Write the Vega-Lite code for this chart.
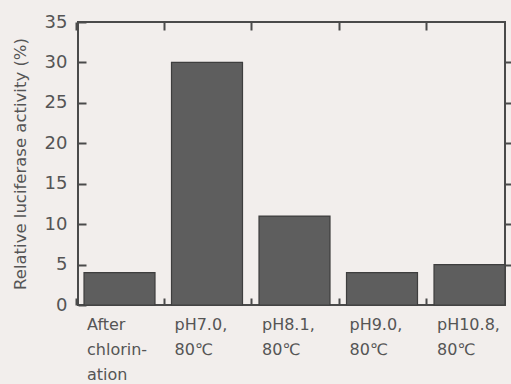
{
  "$schema": "https://vega.github.io/schema/vega-lite/v6.json",
  "autosize": "none",
  "width": 427,
  "height": 283,
  "padding": {"left": 78, "top": 22, "right": 6, "bottom": 79},
  "background": "#f2eeec",
  "config": {
    "view": {"stroke": "#4a4a4a", "strokeWidth": 2},
    "font": "DejaVu Sans",
    "axis": {"domain": false, "grid": false}
  },
  "data": {
    "values": [
      {"condition": "After|chlorin-|ation", "activity": 4},
      {"condition": "pH7.0,|80℃", "activity": 30},
      {"condition": "pH8.1,|80℃", "activity": 11},
      {"condition": "pH9.0,|80℃", "activity": 4},
      {"condition": "pH10.8,|80℃", "activity": 5}
    ]
  },
  "layer": [
    {
      "mark": {"type": "bar", "color": "#5e5e5e", "stroke": "#3e3e3e", "strokeWidth": 1.2},
      "encoding": {
        "x": {
          "field": "condition", "type": "nominal", "sort": null,
          "scale": {"paddingInner": 0.1886, "paddingOuter": 0.0343, "align": 1},
          "axis": {
            "title": null, "orient": "bottom", "bandPosition": -0.1,
            "tickSize": -7, "tickWidth": 2, "tickColor": "#4a4a4a",
            "labelAngle": 0, "labelAlign": "left", "labelBaseline": "top",
            "labelOffset": -32.5, "labelPadding": 18,
            "labelExpr": "split(datum.label, '|')",
            "labelFontSize": 16, "labelColor": "#555555", "labelLineHeight": 25
          }
        },
        "y": {
          "field": "activity", "type": "quantitative",
          "scale": {"domain": [0, 35], "nice": false},
          "axis": {
            "title": "Relative luciferase activity (%)", "orient": "left",
            "values": [0, 5, 10, 15, 20, 25, 30, 35],
            "tickSize": -8, "tickWidth": 2, "tickColor": "#4a4a4a",
            "labelFontSize": 18, "labelColor": "#555555", "labelPadding": 19,
            "titleFontSize": 16.5, "titleFontWeight": "normal", "titleColor": "#555555",
            "titlePadding": 16
          }
        }
      }
    },
    {
      "mark": {"type": "bar", "opacity": 0},
      "encoding": {
        "x": {
          "field": "condition", "type": "nominal", "sort": null,
          "axis": {
            "title": null, "orient": "top", "bandPosition": -0.1, "labels": false,
            "tickSize": -8, "tickWidth": 2, "tickColor": "#4a4a4a"
          }
        },
        "y": {
          "field": "activity", "type": "quantitative",
          "axis": {
            "title": null, "orient": "right", "labels": false,
            "values": [5, 10, 15, 20, 25, 30],
            "tickSize": 7, "tickWidth": 2, "tickColor": "#4a4a4a"
          }
        }
      }
    }
  ],
  "resolve": {"axis": {"x": "independent", "y": "independent"}}
}
